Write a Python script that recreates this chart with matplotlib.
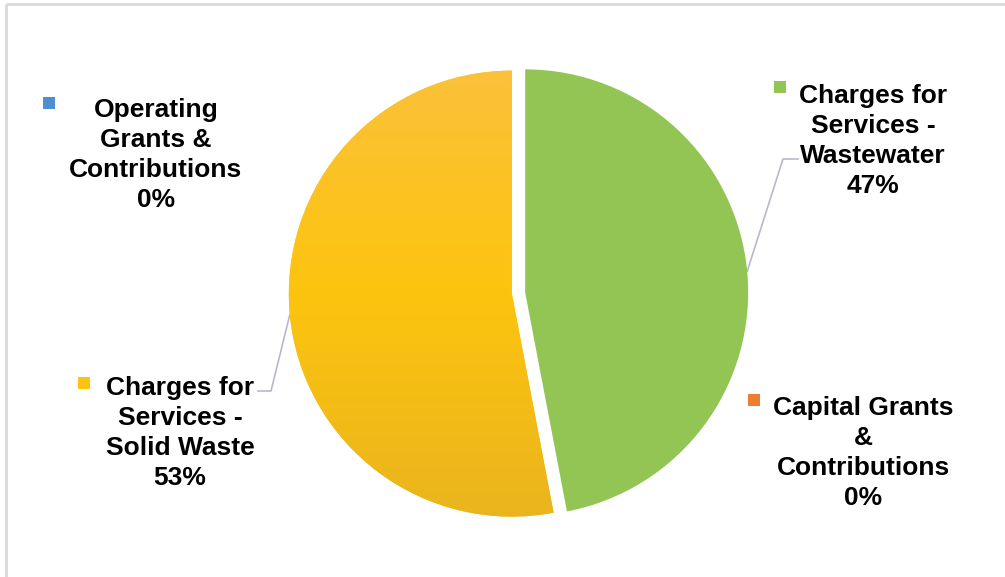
import numpy as np
import matplotlib.pyplot as plt
from matplotlib.colors import LinearSegmentedColormap
from matplotlib.patches import Rectangle

# revenue shares, clockwise from 12 o'clock
categories = ["Charges for\nServices -\nWastewater",
              "Capital Grants\n&\nContributions",
              "Charges for\nServices -\nSolid Waste",
              "Operating\nGrants &\nContributions"]
shares = [47, 0, 53, 0]
colors = ["#92c553", "#ed7d31", "#fdc30f", "#4e8fd3"]

W, H = 1005, 577
fig = plt.figure(figsize=(W / 100, H / 100), dpi=100)
ax = fig.add_axes([0, 0, 1, 1])

# outer frame (only top and left edge fall inside the picture)
ax.plot([6, 6], [0, H - 4], color="#d9d9d9", lw=2, solid_capstyle="butt")
ax.plot([6, W], [H - 4, H - 4], color="#d9d9d9", lw=2, solid_capstyle="butt")

cx, cy, R = 518.5, 284, 223
# pie offsets are in data units, so scale by the radius
wedges, _ = ax.pie(shares, colors=colors, startangle=90, counterclock=False,
                   radius=R, center=(cx, cy), explode=[0.03 * R] * 4,
                   wedgeprops=dict(linewidth=0), frame=True)
ax.set_xlim(0, W)
ax.set_ylim(0, H)
ax.set_aspect("equal")
ax.axis("off")

# vertical shading on the solid waste wedge
ycm = LinearSegmentedColormap.from_list("ys", ["#e9b41f", "#fdc40e", "#fbc13c"])
grad = np.linspace(0, 1, 256).reshape(-1, 1)
img = ax.imshow(grad, cmap=ycm, origin="lower", aspect="auto",
                extent=(cx - R - 20, cx + R, cy - R - 10, cy + R + 10), zorder=2)
img.set_clip_path(wedges[2])
wedges[2].set_zorder(1)
ax.set_xlim(0, W)
ax.set_ylim(0, H)

# labels: (text x, text y) in pixels from the top-left, marker position
label_pos = {0: (873, 141, 780, 87),
             1: (863, 453, 754, 400),
             2: (180, 433, 84, 383),
             3: (156, 155, 49, 103)}
font = dict(family="Liberation Sans", weight="bold", size=19, color="black")
for i, (tx, ty, mx, my) in label_pos.items():
    ax.text(tx, H - ty, f"{categories[i]}\n{shares[i]}%", ha="center",
            va="center", multialignment="center", linespacing=1.32, **font)
    ax.add_patch(Rectangle((mx - 6, H - my - 6), 12, 12, color=colors[i],
                           lw=0, zorder=3))

# leader lines from the labels to the middle of each large wedge
leaders = {0: [(798, 159), (783, 159)], 2: [(258, 391), (271, 391)]}
for i, pts in leaders.items():
    w = wedges[i]
    mid = np.deg2rad((w.theta1 + w.theta2) / 2)
    ex = w.center[0] + w.r * np.cos(mid)
    ey = w.center[1] + w.r * np.sin(mid)
    xs = [p[0] for p in pts] + [ex]
    ys = [H - p[1] for p in pts] + [ey]
    ax.plot(xs, ys, color="#b8b8cc", lw=1.2, zorder=0)

fig.savefig("out.png", dpi=100, facecolor="white")
